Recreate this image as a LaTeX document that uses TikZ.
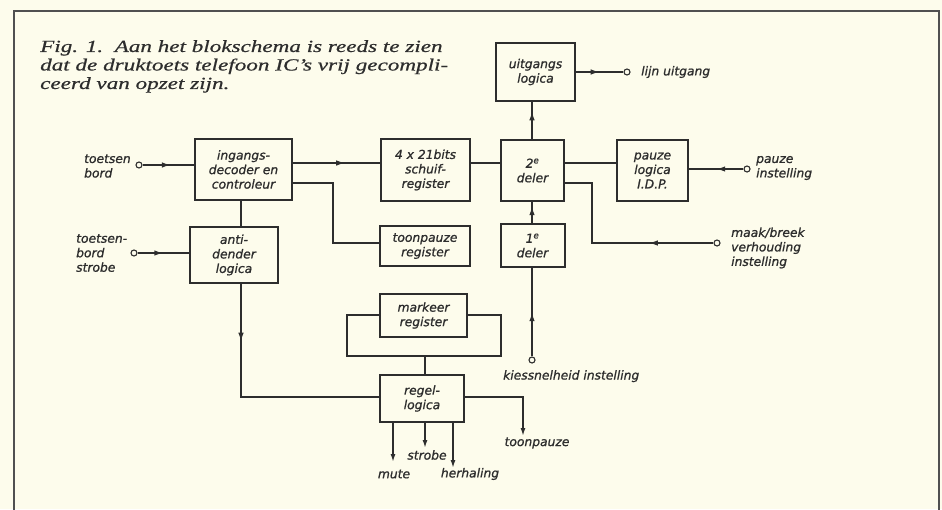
\documentclass[tikz,border=0pt]{standalone}
\usepackage{fontspec}
\setmainfont{Liberation Serif}
\newfontfamily\capfont[FakeStretch=1.36,FakeBold=0.6]{Liberation Serif}
\newfontfamily\labelfont[FakeBold=1]{DejaVu Sans}
\usetikzlibrary{arrows.meta,decorations.markings}
\definecolor{paper}{RGB}{253,252,236}
\definecolor{ink}{RGB}{45,45,45}
\definecolor{framegray}{RGB}{80,80,80}
\newcommand{\lblsize}{\labelfont\itshape\fontsize{12.3}{14.5}\selectfont}
\begin{document}
\begin{tikzpicture}[x=1pt,y=-1pt,
  block/.style={draw=ink,line width=2pt,fill=paper,inner sep=0pt,align=center,
    font=\lblsize,text=ink},
  wire/.style={draw=ink,line width=1.5pt},
  term/.style={circle,draw=ink,line width=1.1pt,fill=paper,inner sep=0pt,minimum size=6pt},
  lbl/.style={font=\lblsize,text=ink,inner sep=0pt,align=left},
  flowmark/.style={postaction={decorate,decoration={markings,
    mark=at position #1 with {\arrow{Latex[length=9pt,width=5.5pt]}}}}},
  endarrow/.style={-{Latex[length=8pt,width=5pt]}}
]
% paper and frame
\useasboundingbox (0,0) rectangle (942,509);
\fill[paper] (0,0) rectangle (942,509);
\draw[framegray,line width=2.4pt] (14,512) -- (14,11) -- (939,11) -- (939,512);

% caption
\node[anchor=north west,inner sep=0pt,align=left,text=ink,
  font=\capfont\itshape\fontsize{17}{18.5}\selectfont] (caption) at (40,40)
  {Fig. 1.\ \ Aan het blokschema is reeds te zien\\
   dat de druktoets telefoon IC’s vrij gecompli-\\
   ceerd van opzet zijn.};

% blocks
\node[block,minimum width=97pt,minimum height=61pt] (ing) at (243.5,169.5)
  {ingangs-\\decoder en\\controleur};
\node[block,minimum width=89pt,minimum height=62pt] (sr) at (425.5,170)
  {4 x 21bits\\schuif-\\register};
\node[block,minimum width=63pt,minimum height=61pt] (d2) at (532.5,170.5)
  {2\textsuperscript{e}\\deler};
\node[block,minimum width=79pt,minimum height=58pt] (ul) at (535.5,72)
  {uitgangs\\logica};
\node[block,minimum width=71pt,minimum height=61pt] (pz) at (652.5,170.5)
  {pauze\\logica\\I.D.P.};
\node[block,minimum width=90pt,minimum height=40pt] (tp) at (425,246)
  {toonpauze\\register};
\node[block,minimum width=88pt,minimum height=56pt] (ad) at (234,255)
  {anti-\\dender\\logica};
\node[block,minimum width=64pt,minimum height=43pt] (d1) at (532.5,245.5)
  {1\textsuperscript{e}\\deler};
\node[block,minimum width=87pt,minimum height=43pt] (mk) at (423.5,315.5)
  {markeer\\register};
\node[block,minimum width=84pt,minimum height=47pt] (rl) at (422,398.5)
  {regel-\\logica};

% terminals
\node[term] (tkb)  at (139,165) {};
\node[term] (tkbs) at (134,253) {};
\node[term] (tlu)  at (627,72) {};
\node[term] (tpi)  at (747,169) {};
\node[term] (tmb)  at (717,243) {};
\node[term] (tks)  at (532,360) {};

% external labels
\node[lbl,anchor=west] (lkb)  at (84,166) {toetsen\\bord};
\node[lbl,anchor=west] (lkbs) at (76,253) {toetsen-\\bord\\strobe};
\node[lbl,anchor=west] (llu)  at (641,72) {lijn uitgang};
\node[lbl,anchor=west] (lpi)  at (756,168) {pauze\\instelling};
\node[lbl,anchor=west] (lmb)  at (731,248) {maak/breek\\verhouding\\instelling};
\node[lbl,anchor=north west] (lks) at (503,370) {kiessnelheid instelling};
\node[lbl] (ltp)  at (537,443) {toonpauze};
\node[lbl] (lstr) at (427,455) {strobe};
\node[lbl] (lmu)  at (394,474) {mute};
\node[lbl] (lhe)  at (470,474) {herhaling};

% output end points
\coordinate (etp) at (523,436);
\coordinate (emu) at (393,462);
\coordinate (est) at (425,448);
\coordinate (ehe) at (453,468);

% connectors
\draw[wire,flowmark=0.55] (tkb) -- (tkb -| ing.west);
\draw[wire,flowmark=0.6] (ing.east |- 0,163) -- (sr.west |- 0,163);
\draw[wire] (ing.east |- 0,183) -- (333,183) -- (333,243) -- (tp.west |- 0,243);
\draw[wire] (ing.south -| 241,0) -- (ad.north -| 241,0);
\draw[wire,flowmark=0.5] (tkbs) -- (tkbs -| ad.west);
\draw[wire,flowmark=0.23] (ad.south -| 241,0) -- (241,397) -- (rl.west |- 0,397);
\draw[wire] (sr.east |- 0,163) -- (d2.west |- 0,163);
\draw[wire,flowmark=0.75] (d2.north -| 532,0) -- (ul.south -| 532,0);
\draw[wire,flowmark=0.5] (ul.east) -- (tlu);
\draw[wire] (d2.east |- 0,163) -- (pz.west |- 0,163);
\draw[wire,flowmark=0.5] (tpi) -- (tpi -| pz.east);
\draw[wire,flowmark=0.31] (tmb) -- (592,243) -- (592,183) -- (d2.east |- 0,183);
\draw[wire,flowmark=0.8] (d1.north -| 532,0) -- (d2.south -| 532,0);
\draw[wire,flowmark=0.5] (tks) -- (d1.south -| 532,0);
\draw[wire] (mk.west |- 0,315) -- (347,315) -- (347,356) -- (501,356) -- (501,315) -- (mk.east |- 0,315);
\draw[wire] (425,356) -- (rl.north -| 425,0);
\draw[wire,endarrow] (rl.east |- 0,397) -- (523,397) -- (etp);
\draw[wire,endarrow] (rl.south -| emu) -- (emu);
\draw[wire,endarrow] (rl.south -| est) -- (est);
\draw[wire,endarrow] (rl.south -| ehe) -- (ehe);
\end{tikzpicture}
\end{document}
